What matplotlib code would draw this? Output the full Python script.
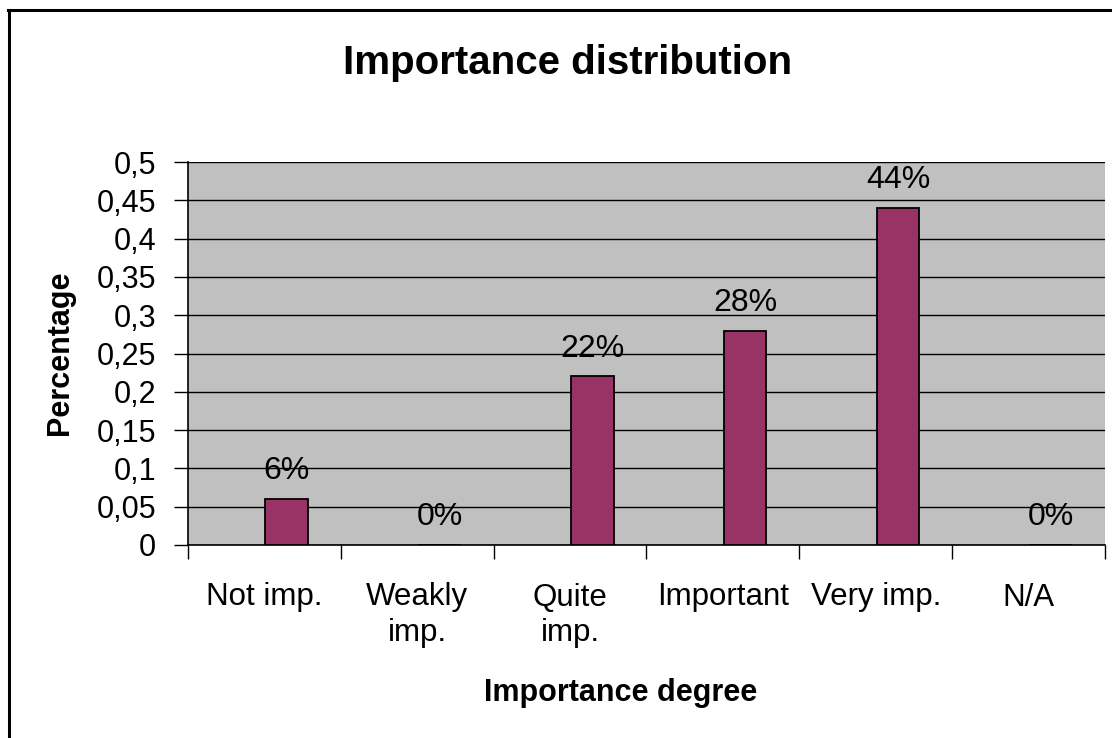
import matplotlib.pyplot as plt
import numpy as np
from matplotlib.lines import Line2D
from matplotlib.ticker import MultipleLocator, FuncFormatter

plt.rcParams['font.family'] = ['Liberation Sans', 'DejaVu Sans']

# importance survey results
categories = ['Not imp.', 'Weakly\nimp.', 'Quite\nimp.', 'Important', 'Very imp.', 'N/A']
shares = [0.06, 0.0, 0.22, 0.28, 0.44, 0.0]
labels = ['6%', '0%', '22%', '28%', '44%', '0%']

fig = plt.figure(figsize=(11.12, 7.38), dpi=100)
ax = fig.add_axes([188 / 1112, 193 / 738, 917 / 1112, 383 / 738])
ax.set_facecolor('#c0c0c0')

x = np.arange(len(categories))
offset = 0.145
ax.bar(x + offset, shares, width=0.28, color='#993366', edgecolor='black', linewidth=1.3, zorder=3)

for xi, v, lab in zip(x, shares, labels):
    ax.annotate(lab, (xi + offset, v), xytext=(0, 20), textcoords='offset points',
                ha='center', va='center', fontsize=23, zorder=4)

ax.set_xlim(-0.5, len(categories) - 0.5)
ax.set_ylim(0, 0.5)
ax.yaxis.set_major_locator(MultipleLocator(0.05))
ax.yaxis.set_major_formatter(FuncFormatter(lambda v, p: ('%g' % round(v, 2)).replace('.', ',')))
ax.grid(axis='y', color='black', linewidth=1.0, zorder=1)

# category ticks sit on the boundaries, labels in the middle
ax.set_xticks(np.arange(len(categories) + 1) - 0.5)
ax.set_xticklabels([])
ax.set_xticks(x, minor=True)
ax.set_xticklabels(categories, minor=True, fontsize=22.5, linespacing=1.25)
ax.tick_params(axis='x', which='minor', length=0, pad=27)
ax.tick_params(axis='x', which='major', length=10, width=1, direction='out')
ax.tick_params(axis='y', length=10, width=1, direction='out', labelsize=22, pad=13)

for side in ['top', 'right']:
    ax.spines[side].set_visible(False)
ax.spines['left'].set_linewidth(1.2)
ax.spines['bottom'].set_linewidth(1.2)

fig.text(568 / 1112, 1 - 63 / 738, 'Importance distribution', ha='center', va='center',
         fontsize=29, fontweight='bold')
fig.text(621 / 1112, 1 - 693 / 738, 'Importance degree', ha='center', va='center',
         fontsize=22, fontweight='bold')
fig.text(60 / 1112, 1 - 353 / 738, 'Percentage', ha='center', va='center',
         fontsize=22, fontweight='bold', rotation=90)

# chart frame, left and top edges
fig.add_artist(Line2D([9 / 1112, 9 / 1112], [0, 1 - 10 / 738], color='black', linewidth=2.2,
                      transform=fig.transFigure))
fig.add_artist(Line2D([8 / 1112, 1], [1 - 10 / 738, 1 - 10 / 738], color='black', linewidth=2.2,
                      transform=fig.transFigure))

fig.savefig('out.png', dpi=100)
